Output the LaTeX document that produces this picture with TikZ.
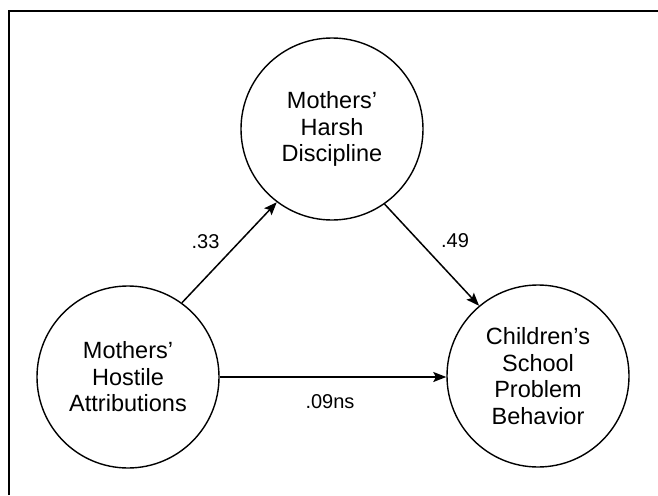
\documentclass[tikz,border=0pt]{standalone}
\usepackage{fontspec}
\setmainfont{Liberation Sans}
\usetikzlibrary{arrows.meta}
\begin{document}
\begin{tikzpicture}[x=1pt,y=-1pt,
  construct/.style={circle,draw,line width=1.4pt,minimum size=182pt,inner sep=0pt,
    align=center,font=\fontsize{23.5}{26.5}\selectfont},
  path/.style={line width=1.5pt,-{Stealth[length=13pt,width=10pt,inset=2.5pt]}},
  coef/.style={font=\fontsize{20}{24}\selectfont,inner sep=0pt}]
  \useasboundingbox (0,0) rectangle (658,495);
  % frame edges
  \draw[line width=2pt] (9,495) -- (9,11) -- (658,11);

  \node[construct] (harsh) at (332,129) {Mothers’\\Harsh\\Discipline};
  \node[construct] (hostile) at (128,377) {Mothers’\\Hostile\\Attributions};
  \node[construct] (school) at (538,376) {Children’s\\School\\Problem\\Behavior};

  \draw[path] (hostile.54) -- (harsh.233);
  \draw[path] (harsh.-55) -- (school.130);
  \draw[path] (hostile.east) -- (hostile.east -| school.west);

  \node[coef] (c1) at (205.5,242) {.33};
  \node[coef] (c2) at (455,241) {.49};
  \node[coef] (c3) at (330,402) {.09ns};
\end{tikzpicture}
\end{document}
